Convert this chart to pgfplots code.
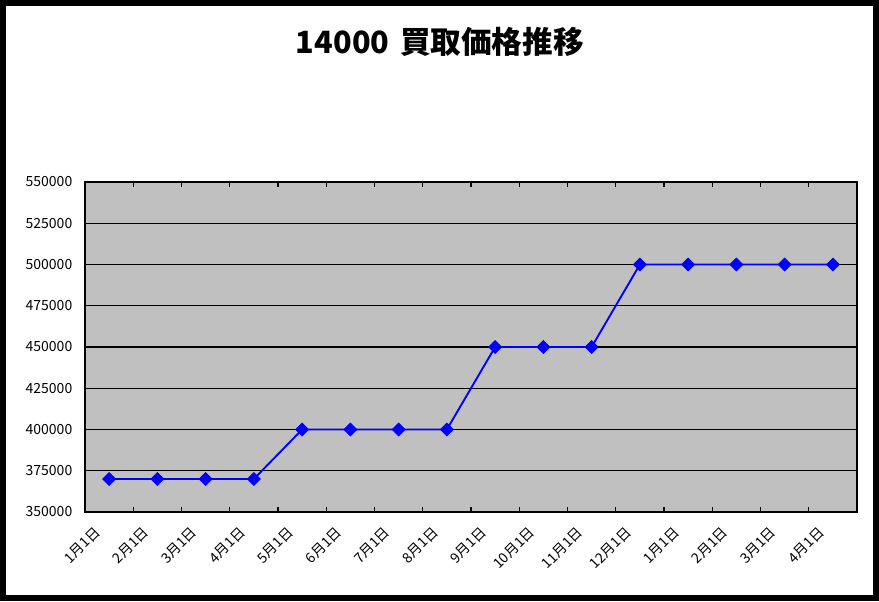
\documentclass[border=0pt]{standalone}
\usepackage{fontspec}
\setmainfont{Noto Sans CJK JP}
\usepackage{pgfplots}
\pgfplotsset{compat=1.18}
\definecolor{plotgray}{HTML}{C0C0C0}
\definecolor{lineblue}{HTML}{0000FF}
\begin{document}
\begin{tikzpicture}[x=0.75pt,y=0.75pt]
\draw[line width=4.5pt] (3,3) rectangle (876,598);
\node[font=\bfseries\fontsize{23}{25}\selectfont] at (440,559) {14000\hspace{8pt}買取価格推移};
\begin{axis}[
  at={(63.75pt,66.75pt)}, anchor=south west,
  scale only axis, width=579pt, height=247.5pt,
  xmin=-0.5, xmax=15.5,
  ymin=350000, ymax=550000,
  ytick={350000,375000,...,550000},
  scaled y ticks=false,
  /pgf/number format/.cd, fixed, set thousands separator={}, assume math mode=true,
  /pgfplots/.cd,
  xtick={0,...,15},
  xticklabels={1月1日,2月1日,3月1日,4月1日,5月1日,6月1日,7月1日,8月1日,9月1日,10月1日,11月1日,12月1日,1月1日,2月1日,3月1日,4月1日},
  minor xtick={0.5,1.5,...,14.5},
  major tick length=0pt,
  minor tick length=3.5pt,
  tick align=inside,
  xminorgrids=false,
  ymajorgrids=true,
  major grid style={black, line width=0.8pt},
  minor tick style={black, line width=0.8pt},
  axis line style={black, line width=1.2pt},
  axis background/.style={fill=plotgray},
  tick label style={font=\fontsize{10.5}{12}\selectfont},
  yticklabel style={xshift=-6pt},
  xticklabel style={xshift=-6pt, yshift=-11pt, rotate=45, anchor=east},
  clip=false,
]
\addplot[color=lineblue, line width=1.4pt, mark=square*, mark size=3.4pt,
  mark options={rotate=45, fill=lineblue, draw=lineblue, line width=0.5pt}]
  coordinates {
  (0,370000) (1,370000) (2,370000) (3,370000)
  (4,400000) (5,400000) (6,400000) (7,400000)
  (8,450000) (9,450000) (10,450000)
  (11,500000) (12,500000) (13,500000) (14,500000) (15,500000)
  };
\end{axis}
\end{tikzpicture}
\end{document}
